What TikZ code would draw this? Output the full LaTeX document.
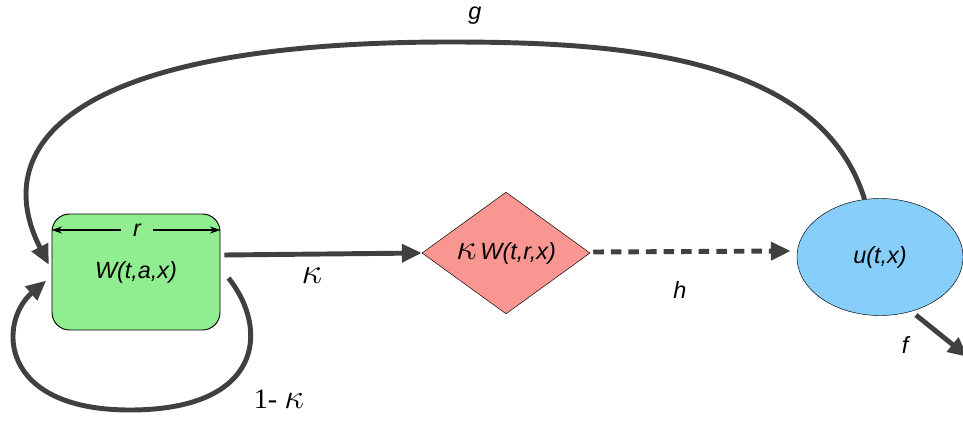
\documentclass[tikz,border=0pt]{standalone}
\usepackage{fontspec}
\setmainfont{Liberation Sans}
\newfontfamily\serifnum{Liberation Serif}
\usepackage{tikz}
\usetikzlibrary{arrows.meta, positioning, calc, shapes.geometric}
\definecolor{boxgreen}{RGB}{144,238,144}
\definecolor{salmon}{RGB}{250,150,145}
\definecolor{skyblue}{RGB}{135,206,250}
\definecolor{linegray}{RGB}{64,64,64}

\tikzset{
  flow/.style={draw=linegray, line width=4.2pt, -{Triangle[length=17pt,width=15pt]}},
  lbl/.style={font=\fontsize{20}{24}\selectfont\itshape},
}
\newcommand{\kap}[1][1.5]{\scalebox{#1}{$\kappa$}}

\begin{document}
\begin{tikzpicture}[x=0.03cm, y=-0.03cm]
  \useasboundingbox (0,0) rectangle (963,424);
  % states
  \node[draw, thick, fill=boxgreen, rounded corners=15pt, minimum width=5.04cm,
        minimum height=3.48cm, lbl] (wbox) at (136,272) {W(t,a,x)};
  \node[draw, fill=salmon, diamond, inner sep=0pt, minimum width=5.04cm,
        minimum height=3.48cm, lbl] (kw) at (506,253) {\kap\,W(t,r,x)};
  \node[draw, fill=skyblue, ellipse, minimum width=4.98cm, minimum height=3.51cm,
        lbl] (ucell) at (880,257) {u(t,x)};
  % width marker r
  \node[lbl, inner xsep=10pt, inner ysep=1pt] (rlab) at (137,230) {r};
  \draw[-{Stealth[length=9pt,width=6pt]}, line width=1.2pt] (rlab.west) -- (rlab.west -| wbox.west);
  \draw[-{Stealth[length=9pt,width=6pt]}, line width=1.2pt] (rlab.east) -- (rlab.east -| wbox.east);
  % flows
  \draw[flow] ([shift={(4,-17)}]wbox.east) -- (kw.west);
  \draw[flow, dash pattern=on 9pt off 6pt] ([shift={(3,-1)}]kw.east) -- ([shift={(-6,-6)}]ucell.west);
  \coordinate (fout) at (968,357);
  \draw[flow, shorten <=5pt] (ucell.-60) -- (fout);
  \draw[flow, shorten >=5pt] (ucell.105) .. controls (820,55) and (620,42) .. (450,42)
        .. controls (60,42) and (-10,150) .. ([shift={(0,-2)}]wbox.west);
  \draw[flow, shorten >=6pt] ([shift={(8,6)}]wbox.east) .. controls (270,330) and (262,410) .. (130,410)
        .. controls (-2,410) and (-2,322) .. ([shift={(0,4)}]wbox.west);
  % labels
  \node[lbl] (glab) at (475,16) {g};
  \node[lbl] (klab) at (312,276) {\kap};
  \node[lbl] (hlab) at (680,290) {h};
  \node[lbl] (flab) at (905,345) {f};
  \node[font=\fontsize{24}{28}\selectfont] (lklab) at (279,399) {\serifnum 1- \kap[1.2]};
\end{tikzpicture}
\end{document}
